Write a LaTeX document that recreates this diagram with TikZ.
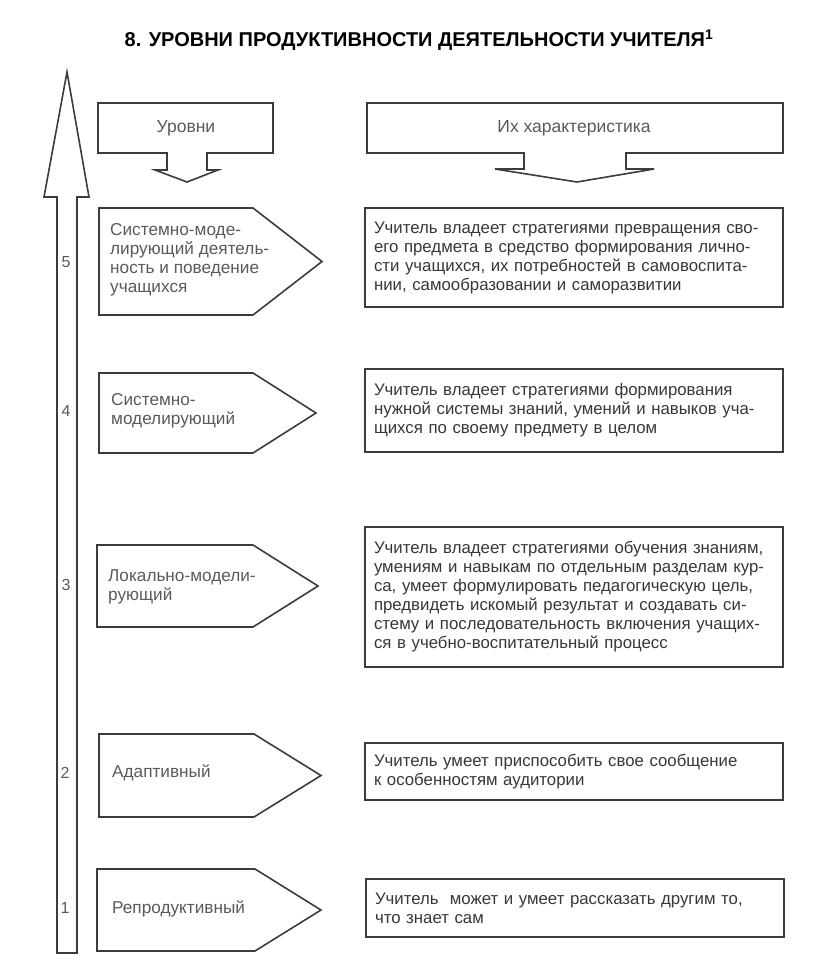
\documentclass[tikz,border=0pt]{standalone}
\usepackage{fontspec}
\setmainfont{Liberation Sans}
\definecolor{linegray}{RGB}{60, 60, 60}
\definecolor{textgray}{RGB}{90, 90, 90}
\definecolor{textdark}{RGB}{55, 55, 55}

\begin{document}
\begin{tikzpicture}[
    x=1pt, y=-1pt,
    outline/.style={
        draw=linegray,
        line width=1.6pt,
        line join=miter
    },
    levelbox/.style={
        draw=linegray,
        line width=1.6pt,
        rectangle,
        text width=400pt,
        inner xsep=9pt,
        align=left,
        text=textdark,
        font=\fontsize{16.8}{19}\selectfont
    },
    leveltext/.style={
        anchor=west,
        align=left,
        inner sep=0pt,
        text=textgray,
        font=\fontsize{17.2}{19}\selectfont
    },
    headtext/.style={text=textgray, font=\fontsize{17.5}{20}\selectfont},
    levelnum/.style={text=textgray, font=\fontsize{16}{19}\selectfont}
]
    \useasboundingbox (0,0) rectangle (816,971);

    % Title
    \node[font=\fontsize{20}{24}\selectfont\bfseries] (title) at (419,40)
        {8. УРОВНИ ПРОДУКТИВНОСТИ ДЕЯТЕЛЬНОСТИ УЧИТЕЛЯ\textsuperscript{1}};

    % Scale arrow
    \draw[outline] (67,72) -- (89,197) -- (77,197) -- (77,953) -- (57,953)
        -- (57,197) -- (44,197) -- cycle;

    % Header shapes
    \draw[outline] (98,103) -- (273,103) -- (273,153) -- (207,153) -- (207,170)
        -- (218,170) -- (187,182) -- (155,170) -- (167,170) -- (167,153)
        -- (98,153) -- cycle;
    \draw[outline] (367,103) -- (783,103) -- (783,153) -- (626,153) -- (626,169)
        -- (654,169) -- (577,182) -- (495,169) -- (524,169) -- (524,153)
        -- (367,153) -- cycle;
    \node[headtext] (levels) at (186,128) {Уровни};
    \node[headtext] (traits) at (574,128) {Их характеристика};

    % Level shapes
    \draw[outline] (99,208) -- (253,208) -- (322,261.5) -- (253,315) -- (99,315) -- cycle;
    \draw[outline] (99,373) -- (253,373) -- (316,413) -- (253,453) -- (99,453) -- cycle;
    \draw[outline] (97,545) -- (253,545) -- (318,586) -- (253,627) -- (97,627) -- cycle;
    \draw[outline] (99,734) -- (254,734) -- (321,775.5) -- (254,817) -- (99,817) -- cycle;
    \draw[outline] (97,869) -- (255,869) -- (321,910) -- (255,951) -- (97,951) -- cycle;

    % Numbers
    \node[levelnum] (n5) at (66,262) {5};
    \node[levelnum] (n4) at (66,411) {4};
    \node[levelnum] (n3) at (66,585) {3};
    \node[levelnum] (n2) at (65,773) {2};
    \node[levelnum] (n1) at (65,908) {1};

    % Level names
    \node[leveltext] (lvl5) at (110,260) {Системно-моде-\\лирующий деятель-\\ность и поведение\\учащихся};
    \node[leveltext] (lvl4) at (111,411) {Системно-\\моделирующий};
    \node[leveltext] (lvl3) at (108,587) {Локально-модели-\\рующий};
    \node[leveltext] (lvl2) at (112,773) {Адаптивный};
    \node[leveltext] (lvl1) at (112,909) {Репродуктивный};

    % Descriptions
    \node[levelbox, minimum height=99pt] (desc5) at (574,257.5)
        {Учитель владеет стратегиями превращения сво-\\его предмета в средство формирования лично-\\сти учащихся, их потребностей в самовоспита-\\нии, самообразовании и саморазвитии};
    \node[levelbox, minimum height=83pt] (desc4) at (574,410.5)
        {Учитель владеет стратегиями формирования\\нужной системы знаний, умений и навыков уча-\\щихся по своему предмету в целом};
    \node[levelbox, minimum height=140pt] (desc3) at (574,597)
        {Учитель владеет стратегиями обучения знаниям,\\умениям и навыкам по отдельным разделам кур-\\са, умеет формулировать педагогическую цель,\\предвидеть искомый результат и создавать си-\\стему и последовательность включения учащих-\\ся в учебно-воспитательный процесс};
    \node[levelbox, minimum height=57pt] (desc2) at (574,771.5)
        {Учитель умеет приспособить свое сообщение\\к особенностям аудитории};
    \node[levelbox, minimum height=58pt] (desc1) at (575,908)
        {Учитель~ может и умеет рассказать другим то,\\что знает сам};

\end{tikzpicture}
\end{document}
